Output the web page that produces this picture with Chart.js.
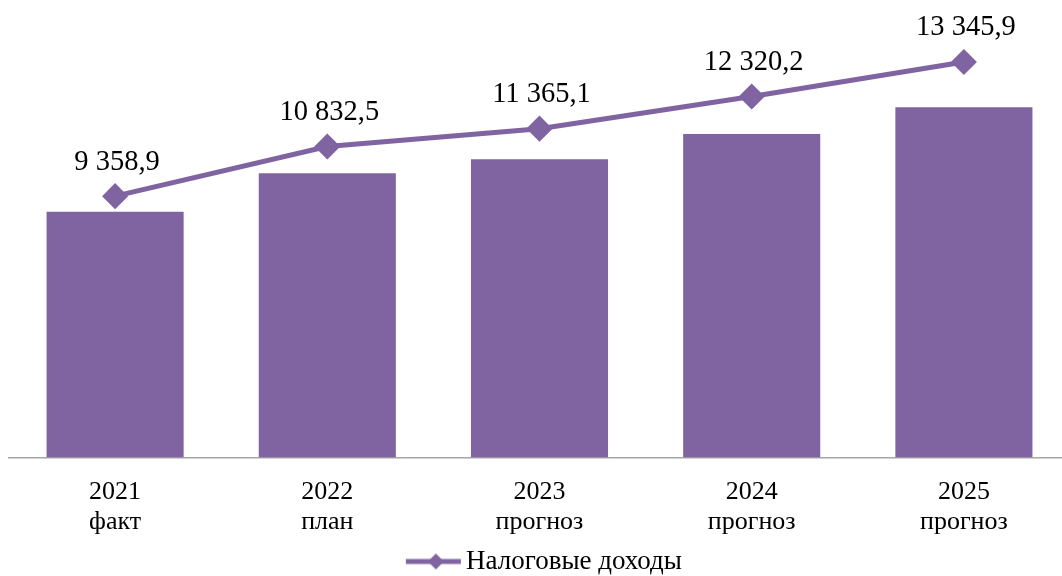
<!DOCTYPE html>
<html>
<head>
<meta charset="utf-8">
<script src="https://cdn.jsdelivr.net/npm/chart.js@4.4.1/dist/chart.umd.min.js"></script>
<style>
  body { margin: 0; background: #fff; overflow: hidden; }
</style>
</head>
<body>
<canvas id="taxChart" width="1072" height="585"></canvas>
<script>
// Data
const years = ['2021', '2022', '2023', '2024', '2025'];
const stages = ['факт', 'план', 'прогноз', 'прогноз', 'прогноз'];
const taxIncome = [9358.9, 10832.5, 11365.1, 12320.2, 13345.9];
const seriesName = 'Налоговые доходы';

const purple = '#8064A2';
const serif = "'Liberation Serif', 'Times New Roman', serif";

// "9 358,9" style
function fmt(v) {
  const parts = v.toFixed(1).split('.');
  return parts[0].replace(/\B(?=(\d{3})+(?!\d))/g, ' ') + ',' + parts[1];
}

// legend marker: line with a diamond (drawn off-centre so the text sits right of it)
const marker = document.createElement('canvas');
marker.width = 80; marker.height = 20;
(function () {
  const c = marker.getContext('2d');
  c.strokeStyle = purple; c.fillStyle = purple; c.lineWidth = 5;
  c.beginPath(); c.moveTo(21, 10); c.lineTo(76, 10); c.stroke();
  c.beginPath(); c.moveTo(51, 2); c.lineTo(59, 10); c.lineTo(51, 18); c.lineTo(43, 10); c.closePath(); c.fill();
})();

// value labels above the line points
const valueLabels = {
  id: 'valueLabels',
  afterDatasetsDraw(chart) {
    const ctx = chart.ctx;
    const meta = chart.getDatasetMeta(1);
    ctx.save();
    ctx.font = '28.5px ' + serif;
    ctx.fillStyle = '#000';
    ctx.textAlign = 'center';
    ctx.textBaseline = 'middle';
    meta.data.forEach((pt, i) => {
      ctx.fillText(fmt(taxIncome[i]), pt.x + 2, pt.y - 34);
    });
    ctx.restore();
  }
};

const ctx = document.getElementById('taxChart').getContext('2d');
const taxChart = new Chart(ctx, {
    data: {
        labels: years.map((y, i) => [y, stages[i]]),
        datasets: [{
            type: 'bar',
            label: seriesName,
            data: taxIncome,
            backgroundColor: purple,
            yAxisID: 'y',
            categoryPercentage: 1,
            barPercentage: 0.646,
            order: 2
        },
        {
            type: 'line',
            label: seriesName,
            data: taxIncome,
            borderColor: purple,
            backgroundColor: purple,
            borderWidth: 5,
            pointStyle: 'rectRot',
            pointRadius: 9.5,
            pointHoverRadius: 9.5,
            yAxisID: 'y2',
            clip: false,
            order: 1
        }]
    },
    options: {
        responsive: false,
        animation: false,
        layout: { autoPadding: false, padding: { top: 10, left: 9, right: 2, bottom: 0 } },
        scales: {
            x: {
                grid: { display: true, drawOnChartArea: false, drawTicks: true, tickLength: 20, tickColor: 'rgba(0,0,0,0)' },
                border: { display: true, color: '#a6a6a6', width: 1.5 },
                ticks: { color: '#000', font: { family: serif, size: 26, lineHeight: 1.154 }, padding: 0, maxRotation: 0 }
            },
            y: { display: false, min: 0, max: 17048 },
            y2: { display: false, min: 1592, max: 14891 }
        },
        plugins: {
            legend: {
                position: 'bottom',
                labels: {
                    color: '#000',
                    font: { family: serif, size: 27 },
                    usePointStyle: true,
                    pointStyleWidth: 55.5,
                    padding: 10.5,
                    generateLabels: chart => [{
                        text: seriesName, pointStyle: marker, datasetIndex: 1,
                        fillStyle: purple, strokeStyle: purple, lineWidth: 0, fontColor: '#000'
                    }]
                }
            },
            tooltip: { enabled: false }
        }
    },
    plugins: [valueLabels]
});
</script>
</body>
</html>
